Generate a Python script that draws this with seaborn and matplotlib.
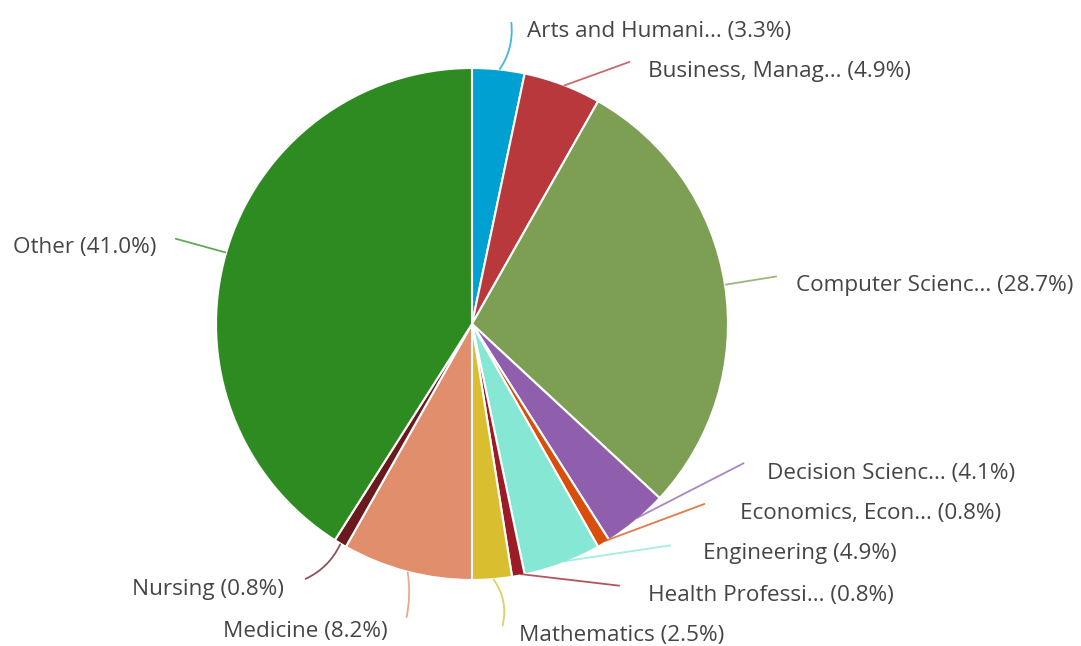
import numpy as np
import matplotlib.pyplot as plt
import seaborn as sns

# ============ DATA ============
subjects = ['Arts and Humani...', 'Business, Manag...', 'Computer Scienc...',
            'Decision Scienc...', 'Economics, Econ...', 'Engineering',
            'Health Professi...', 'Mathematics', 'Medicine', 'Nursing', 'Other']
shares = [3.3, 4.9, 28.7, 4.1, 0.8, 4.9, 0.8, 2.5, 8.2, 0.8, 41.0]
colors = ['#00a0d2', '#b8383c', '#7d9f53', '#8f5fad', '#d84e0a', '#86e8d4',
          '#9b1c26', '#d9bf30', '#e08e6c', '#6a1a1f', '#2e8b21']

# label placement (pixel coords, y from top) and alignment
label_pos = [(527, 32, 'left'), (648, 72, 'left'), (796, 286, 'left'),
             (767, 473, 'left'), (740, 514, 'left'), (703, 554, 'left'),
             (648, 595, 'left'), (519, 636, 'left'), (388, 632, 'right'),
             (284, 589, 'right'), (156, 248, 'right')]
line_end = [(511, 20), (632, 61), (779, 276), (746, 462), (707, 503), (673, 545),
            (622, 586), (502, 628), (406, 620), (303, 580), (173, 238)]
line_rad = [-0.2, 0, 0, 0, 0, 0, 0, 0.25, 0.1, 0.2, 0]

W, H = 1081, 646
cx, cy, r = 472, H - 324, 256

sns.set_theme(style='white')
plt.rcParams['font.family'] = ['Open Sans', 'DejaVu Sans']

fig = plt.figure(figsize=(W / 100, H / 100), dpi=100)
ax = fig.add_axes([0, 0, 1, 1])
wedges, _ = ax.pie(shares, colors=colors, startangle=90, counterclock=False,
                   center=(cx, cy), radius=r,
                   wedgeprops=dict(edgecolor='white', linewidth=1.5))
ax.set_xlim(0, W)
ax.set_ylim(0, H)
ax.set_aspect('auto')
ax.axis('off')

for w, name, val, col, (tx, ty, ha), (lx, ly), rad in zip(
        wedges, subjects, shares, colors, label_pos, line_end, line_rad):
    mid = np.deg2rad((w.theta1 + w.theta2) / 2)
    sx, sy = cx + (r - 2) * np.cos(mid), cy + (r - 2) * np.sin(mid)
    ax.annotate('', xy=(sx, sy), xytext=(lx, H - ly),
                arrowprops=dict(arrowstyle='-', color=col, alpha=0.75, lw=1.3,
                                connectionstyle=f'arc3,rad={rad}'))
    ax.text(tx, H - ty, f'{name} ({val:.1f}%)', ha=ha, va='center',
            fontsize=16.2, color='#454545')

fig.savefig('out.png', dpi=100)
plt.close()
